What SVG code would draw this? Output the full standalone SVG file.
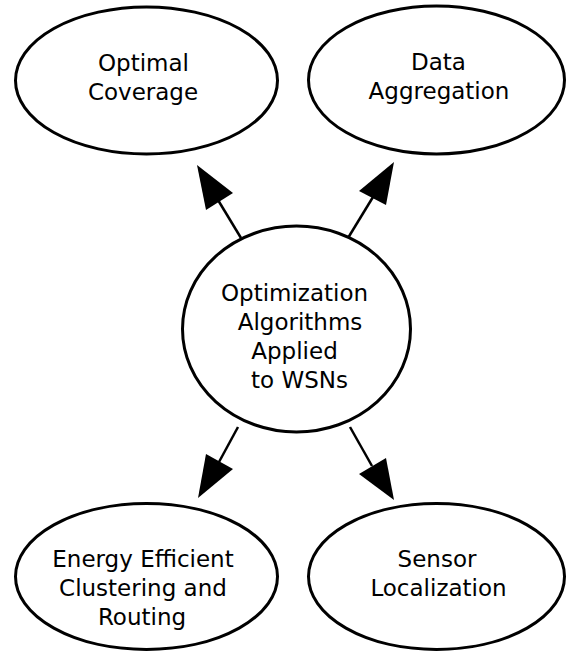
<svg xmlns="http://www.w3.org/2000/svg" width="566" height="651" viewBox="0 0 566 651">
<style>
.node{fill:#fff;stroke:#000;stroke-width:3}
.lbl{font-family:"DejaVu Sans","Liberation Sans",sans-serif;font-size:23px;fill:#000;text-anchor:middle}
.edge{stroke:#000;stroke-width:2.5;fill:none}
.head{fill:#000;stroke:none}
</style>
<rect width="566" height="651" fill="#fff"/>
<g id="connectors">
<line class="edge" x1="241" y1="238" x2="218" y2="200"/>
<polygon class="head" points="197,165 233,193 206,210"/>
<line class="edge" x1="348" y1="238" x2="373" y2="197"/>
<polygon class="head" points="394,162 359,191 386,205"/>
<line class="edge" x1="238" y1="427" x2="219" y2="462"/>
<polygon class="head" points="198,498 206,454 233,469"/>
<line class="edge" x1="350" y1="427" x2="372" y2="466"/>
<polygon class="head" points="394,500 359,474 386,458"/>
</g>
<g id="center">
<ellipse class="node" cx="296.5" cy="329" rx="114" ry="103"/>
<text class="lbl" x="294.5" y="301">Optimization</text>
<text class="lbl" x="300" y="330">Algorithms</text>
<text class="lbl" x="294.5" y="359">Applied</text>
<text class="lbl" x="299.5" y="388">to WSNs</text>
</g>
<g id="optimal-coverage">
<ellipse class="node" cx="146.5" cy="80.5" rx="131" ry="73.5"/>
<text class="lbl" x="143.5" y="71">Optimal</text>
<text class="lbl" x="143" y="100">Coverage</text>
</g>
<g id="data-aggregation">
<ellipse class="node" cx="436.5" cy="80" rx="128" ry="74"/>
<text class="lbl" x="438.5" y="70">Data</text>
<text class="lbl" x="439" y="99">Aggregation</text>
</g>
<g id="energy-efficient">
<ellipse class="node" cx="146.5" cy="576.5" rx="131" ry="73"/>
<text class="lbl" x="143" y="567">Energy Efficient</text>
<text class="lbl" x="143" y="596">Clustering and</text>
<text class="lbl" x="142" y="625">Routing</text>
</g>
<g id="sensor-localization">
<ellipse class="node" cx="436.5" cy="576.5" rx="128" ry="73"/>
<text class="lbl" x="437" y="567">Sensor</text>
<text class="lbl" x="438.5" y="596">Localization</text>
</g>
</svg>
